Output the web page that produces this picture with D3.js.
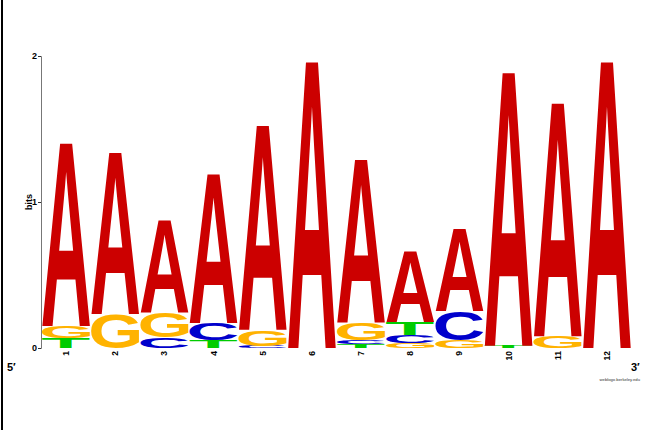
<!DOCTYPE html>
<html>
<head>
<meta charset="utf-8">
<script src="https://cdn.jsdelivr.net/npm/d3@7"></script>
<style>
  html, body { margin: 0; padding: 0; background: #fff; }
  svg text { font-family: "Liberation Sans", Arial, Helvetica, sans-serif; }
</style>
</head>
<body>
<div id="chart"></div>
<script>
(function () {
  "use strict";

  // positions along the motif
  var positions = [1, 2, 3, 4, 5, 6, 7, 8, 9, 10, 11, 12];
  var bases = ["A", "C", "G", "T"];
  // letter heights in bits, one value per position
  var bitsA = [1.27, 1.12, 0.64, 1.03, 1.42, 1.99, 1.13, 0.49, 0.57, 1.90, 1.62, 1.99];
  var bitsC = [0, 0, 0.07, 0.12, 0.015, 0, 0.03, 0.055, 0.20, 0, 0, 0];
  var bitsG = [0.08, 0.23, 0.17, 0, 0.11, 0, 0.12, 0.035, 0.055, 0, 0.08, 0];
  var bitsT = [0.07, 0, 0, 0.05, 0, 0, 0.025, 0.09, 0, 0.015, 0, 0];
  var yTicks = [0, 1, 2];

  var w = 645,
    h = 430,
    svg,
    x,
    y,
    // classic weblogo nucleotide colours
    colors = d3.scaleOrdinal(bases, ["#cc0000", "#0000cc", "#ffb300", "#00cc00"]),
    glyph = {};

  function measureGlyphs() {
    var ctx = document.createElement("canvas").getContext("2d");
    ctx.font = "bold 100px 'Liberation Sans'";
    bases.forEach(function (b) {
      var m = ctx.measureText(b);
      glyph[b] = {
        l: m.actualBoundingBoxLeft,
        w: m.actualBoundingBoxLeft + m.actualBoundingBoxRight,
        a: m.actualBoundingBoxAscent,
        h: m.actualBoundingBoxAscent + m.actualBoundingBoxDescent
      };
    });
  }

  function buildStacks() {
    var table = { A: bitsA, C: bitsC, G: bitsG, T: bitsT };
    var out = [];
    positions.forEach(function (p, i) {
      var col = bases.map(function (b) { return { pos: p, base: b, bits: table[b][i] }; })
        .filter(function (d) { return d.bits > 0; })
        .sort(function (a, b) { return a.bits - b.bits; });
      var acc = 0;
      col.forEach(function (d) { d.y0 = acc; acc += d.bits; d.y1 = acc; out.push(d); });
    });
    return out;
  }

  function createSvg() {
    svg = d3.select("#chart")
      .append("svg")
      .attr("width", w)
      .attr("height", h);
  }

  function makeChart() {
    createSvg();
    measureGlyphs();

    x = d3.scaleBand().domain(positions).range([41.5, 631.5]);
    y = d3.scaleLinear().domain([0, 2]).range([348, 56]);

    // frame line on the left edge
    svg.append("rect").attr("x", 1).attr("y", 0).attr("width", 2).attr("height", h).attr("fill", "#000");

    svg.append("g").selectAll("text.letter")
      .data(buildStacks())
      .enter().append("text")
      .attr("class", "letter")
      .attr("font-size", 100)
      .attr("font-weight", "bold")
      .attr("fill", function (d) { return colors(d.base); })
      .attr("transform", function (d) {
        var g = glyph[d.base],
          bx = x(d.pos) + 0.5,
          bw = x.bandwidth() - 1,
          by = y(d.y1),
          bh = y(d.y0) - y(d.y1);
        return "translate(" + bx + "," + by + ") scale(" + (bw / g.w) + "," + (bh / g.h) + ") translate(" + g.l + "," + g.a + ")";
      })
      .text(function (d) { return d.base; });

    // y axis
    var yAxis = svg.append("g")
      .attr("transform", "translate(41,0)")
      .call(d3.axisLeft(y).tickValues(yTicks).tickSize(3).tickFormat(d3.format("d")));
    yAxis.select(".domain").attr("stroke", "#777");
    yAxis.selectAll(".tick line").attr("stroke", "#333");
    yAxis.selectAll(".tick text")
      .attr("font-size", 9).attr("font-weight", "bold")
      .attr("font-family", "Liberation Sans").attr("fill", "#000").attr("x", -4);

    svg.append("text")
      .attr("transform", "translate(32,202) rotate(-90)")
      .attr("text-anchor", "middle")
      .attr("font-size", 9).attr("font-weight", "bold")
      .text("bits");

    // position numbers, read bottom to top
    svg.append("g").selectAll("text.pos")
      .data(positions)
      .enter().append("text")
      .attr("class", "pos")
      .attr("transform", function (d) { return "translate(" + (x(d) + x.bandwidth() / 2 + 3) + ",351) rotate(-90)"; })
      .attr("text-anchor", "end")
      .attr("font-size", 8.5).attr("font-weight", "bold")
      .text(function (d) { return d; });

    svg.append("text").attr("x", 7).attr("y", 371).attr("font-size", 11).attr("font-weight", "bold").text("5′");
    svg.append("text").attr("x", 631).attr("y", 371).attr("font-size", 11).attr("font-weight", "bold").text("3′");
    svg.append("text").attr("x", 640).attr("y", 381).attr("text-anchor", "end")
      .attr("font-size", 4.2).attr("fill", "#333").text("weblogo.berkeley.edu");
  }

  makeChart();
})();
</script>
</body>
</html>
